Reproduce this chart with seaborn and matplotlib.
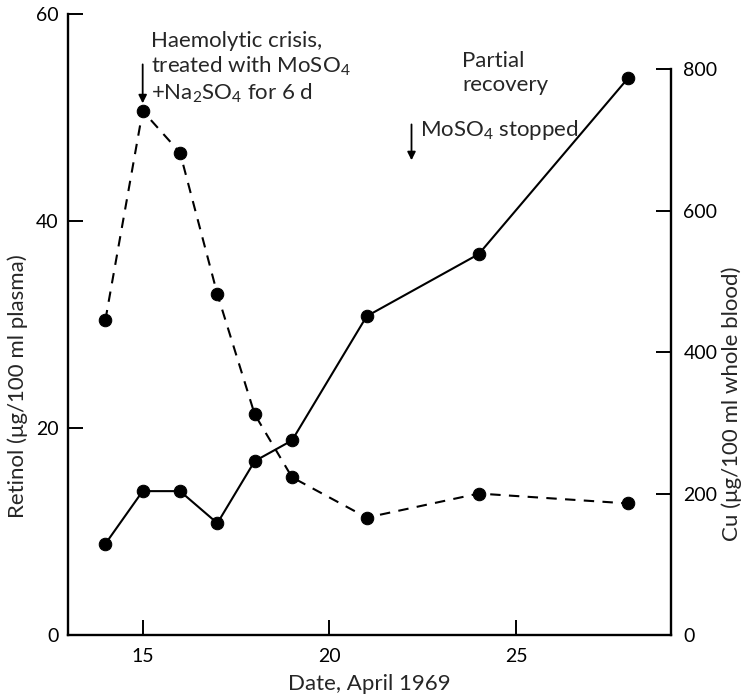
import matplotlib
matplotlib.use("Agg")
import matplotlib.pyplot as plt
import seaborn as sns
import pandas as pd

# ---- data ----
days = [14, 15, 16, 17, 18, 19, 21, 24, 28]
retinol = [8.8, 13.9, 13.9, 10.8, 16.8, 18.8, 30.8, 36.8, 53.8]      # µg/100 ml plasma (solid)
copper = [445, 741, 682, 482, 312, 223, 166, 200, 186]               # µg/100 ml whole blood (dashed)
x_ticks = [15, 20, 25]
left_ticks = [0, 20, 40, 60]
right_ticks = [0, 200, 400, 600, 800]

sns.set_theme(style="white")
plt.rcParams['font.family'] = ['Lato', 'DejaVu Sans']
plt.rcParams['mathtext.fontset'] = 'custom'
plt.rcParams['mathtext.rm'] = 'Lato'
plt.rcParams['mathtext.it'] = 'Lato:italic'
plt.rcParams['mathtext.default'] = 'regular'

TICK_FS = 14
LAB_FS = 16
ANN_FS = 16
df = pd.DataFrame({"day": days, "retinol": retinol, "copper": copper})

fig = plt.figure(figsize=(7.42, 6.96), dpi=100)
ax = fig.add_axes([68/742, 1 - 635/696, (671 - 68)/742, (635 - 14)/696])
ax2 = ax.twinx()

sns.lineplot(data=df, x="day", y="retinol", ax=ax, color="black", marker="o",
             markersize=9, linewidth=1.5, markeredgecolor="black")
sns.lineplot(data=df, x="day", y="copper", ax=ax2, color="black", marker="o",
             markersize=9, linewidth=1.5, markeredgecolor="black",
             linestyle=(0, (5, 4)))

ax.set_xlim(13.0, 29.15)
ax.set_ylim(0, 60)
ax2.set_ylim(0, 878)

for a in (ax, ax2):
    a.spines['top'].set_visible(False)
    for s in a.spines.values():
        s.set_linewidth(1.7)
        s.set_color("black")
ax.spines['right'].set_visible(False)
ax2.spines['left'].set_visible(False)
ax2.spines['bottom'].set_visible(False)
ax2.spines['right'].set_bounds(0, 800)

ax.set_xticks(x_ticks)
ax.set_yticks(left_ticks)
ax2.set_yticks(right_ticks)
ax.tick_params(axis='x', direction='in', length=11, width=1.4, labelsize=TICK_FS,
               colors='black', pad=9, bottom=True)
ax.tick_params(axis='y', direction='in', length=11, width=1.4, labelsize=TICK_FS,
               colors='black', pad=7, left=True)
ax2.tick_params(axis='y', direction='in', length=11, width=1.4, labelsize=TICK_FS,
                colors='black', pad=9, right=True)
ax.grid(False)
ax2.grid(False)

ax.set_xlabel("Date, April 1969", fontsize=LAB_FS, labelpad=7)
ax.set_ylabel("Retinol (μg/100 ml plasma)", fontsize=LAB_FS)
ax2.set_ylabel("Cu (μg/100 ml whole blood)", fontsize=LAB_FS)
ax.yaxis.set_label_coords(-0.066, 0.40)
ax2.yaxis.set_label_coords(1.083, 0.373)

# annotations
ax.text(15.21, 58.35, "Haemolytic crisis,\ntreated with MoSO$_4$\n+Na$_2$SO$_4$ for 6 d",
        fontsize=ANN_FS, ha="left", va="top", linespacing=1.2)
ax.annotate("", xy=(15.0, 51.1), xytext=(15.0, 55.4),
            arrowprops=dict(arrowstyle="-|>", color="black", lw=1.3, mutation_scale=12))
ax.text(23.56, 54.3, "Partial\nrecovery", fontsize=ANN_FS, ha="left", va="center",
        linespacing=1.2)
ax.annotate("", xy=(22.2, 45.6), xytext=(22.2, 49.6),
            arrowprops=dict(arrowstyle="-|>", color="black", lw=1.3, mutation_scale=12))
ax.text(22.44, 48.8, "MoSO$_4$ stopped", fontsize=ANN_FS, ha="left", va="center")

fig.savefig("out.png", dpi=100)
